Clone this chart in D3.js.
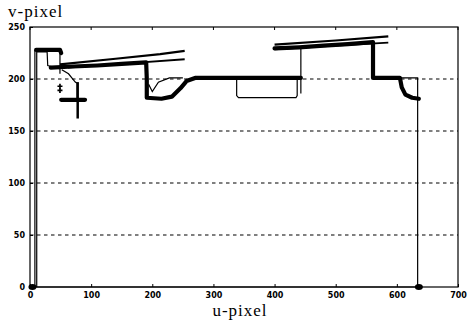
<!DOCTYPE html>
<html>
<head>
<meta charset="utf-8">
<script src="https://cdn.jsdelivr.net/npm/d3@7"></script>
<style>
  body { margin: 0; background: #fff; }
  svg { display: block; }
  .tick-label { font: bold 8px "DejaVu Sans", sans-serif; fill: #000; }
  .title { font: 17px "Liberation Serif", serif; letter-spacing: 1px; fill: #000; }
</style>
</head>
<body>
<svg id="chart" width="468" height="326"></svg>
<script>
// tick values
const xTicks = [0, 100, 200, 300, 400, 500, 600, 700];
const yTicks = [0, 50, 100, 150, 200, 250];
const gridValues = [50, 100, 150, 200];

// thick profile (dense markers) - null breaks the line
const profileThick = [
  [10, 228], [30, 228], [49, 228], [51, 225], null,
  [34, 211], [70, 212], [110, 213], [150, 214.5], [190, 216], [191, 200], [191, 182],
  [215, 181], [232, 183], [246, 191], [256, 198], [270, 201], [350, 201], [443, 201], null,
  [400, 229.5], [440, 230.5], [480, 232], [520, 233.5], [561, 235.5], [561, 215], [561, 201], [605, 201],
  [608, 192], [614, 185], [625, 182], [636, 181], null,
  [51, 180], [90, 180]
];

// thin trace under the profile
const profileThin = [
  [8, 0], [8, 228], null,
  [11, 0], [11, 226], [28, 226], [29, 213], [48, 210], null,
  [49, 228], [49, 205], null,
  [52, 209], [63, 205], [74, 197], [77, 196], [77, 178], null,
  [194, 195], [200, 188], [210, 197], [228, 201], [250, 201], null,
  [338, 201], [338, 184], [341, 182], [435, 182], [437, 184], [437, 201], null,
  [443, 186], [443, 230], null,
  [605, 201], [634, 201], [634, 0], null,
  [0, 0], [634, 0]
];

// vertical stroke under the first dip
const dipStroke = [[78, 197], [78, 162]];

// sloped reference lines above the profile
const slopeUpper = [[49, 214], [140, 219.5], [213, 224], [253, 227]];
const slopeLower = [[62, 211], [160, 215], [253, 219]];
const slopeUpper2 = [[400, 233], [500, 237], [586, 241]];
const slopeLower2 = [[400, 228.5], [500, 232], [586, 235]];

// blobs at the ends and the small star marker
const endPoints = [[4, 0], [636, 0]];
const starPoints = [[49, 193], [49, 189]];

const svg = d3.select('#chart');
const mLeft = 30, mRight = 458, mTop = 27, mBottom = 287;

const x = d3.scaleLinear().domain([0, 700]).range([mLeft, mRight]);
const y = d3.scaleLinear().domain([0, 250]).range([mBottom, mTop]);

// dashed grid
svg.append('g')
  .selectAll('line')
  .data(gridValues)
  .join('line')
  .attr('x1', mLeft)
  .attr('x2', mRight)
  .attr('y1', d => y(d))
  .attr('y2', d => y(d))
  .attr('stroke', '#000')
  .attr('stroke-width', 1.1)
  .attr('stroke-dasharray', '3.5,3.5');

// axes with inward ticks
const xAxis = d3.axisBottom(x).tickValues(xTicks).tickSize(-3).tickPadding(5).tickFormat(d3.format('d'));
const yAxis = d3.axisLeft(y).tickValues(yTicks).tickSize(-3).tickPadding(5).tickFormat(d3.format('d'));

svg.append('g')
  .attr('transform', `translate(0,${mBottom})`)
  .call(xAxis)
  .call(g => g.select('.domain').remove())
  .call(g => g.selectAll('text').attr('class', 'tick-label').attr('dy', '0.7em'));

svg.append('g')
  .attr('transform', `translate(${mLeft},0)`)
  .call(yAxis)
  .call(g => g.select('.domain').remove())
  .call(g => g.selectAll('text').attr('class', 'tick-label'));

// top ticks
svg.append('g')
  .selectAll('line')
  .data(xTicks)
  .join('line')
  .attr('x1', d => x(d))
  .attr('x2', d => x(d))
  .attr('y1', mTop)
  .attr('y2', mTop + 3)
  .attr('stroke', '#000');

// frame
svg.append('rect')
  .attr('x', mLeft)
  .attr('y', mTop)
  .attr('width', mRight - mLeft)
  .attr('height', mBottom - mTop)
  .attr('fill', 'none')
  .attr('stroke', '#000')
  .attr('stroke-width', 1.2);

const line = d3.line()
  .defined(d => d !== null)
  .x(d => x(d[0]))
  .y(d => y(d[1]));

const plot = svg.append('g');

plot.append('path')
  .attr('d', line(profileThin))
  .attr('fill', 'none')
  .attr('stroke', '#000')
  .attr('stroke-width', 1.2);

plot.append('path')
  .attr('d', line(dipStroke))
  .attr('fill', 'none')
  .attr('stroke', '#000')
  .attr('stroke-width', 2.5);

[slopeUpper, slopeLower, slopeUpper2, slopeLower2].forEach((s, i) => {
  plot.append('path')
    .attr('d', line(s))
    .attr('fill', 'none')
    .attr('stroke', '#000')
    .attr('stroke-width', i % 2 === 0 ? 2.2 : 1.8);
});

plot.append('path')
  .attr('d', line(profileThick))
  .attr('fill', 'none')
  .attr('stroke', '#000')
  .attr('stroke-width', 4.2)
  .attr('stroke-linejoin', 'round')
  .attr('stroke-linecap', 'round');

plot.selectAll('.blob')
  .data(endPoints)
  .join('ellipse')
  .attr('class', 'blob')
  .attr('cx', d => x(d[0]))
  .attr('cy', d => y(d[1]))
  .attr('rx', 4)
  .attr('ry', 3)
  .attr('fill', '#000');

plot.selectAll('.star')
  .data(starPoints)
  .join('path')
  .attr('class', 'star')
  .attr('transform', d => `translate(${x(d[0])},${y(d[1])})`)
  .attr('d', d3.symbol(d3.symbolCross, 14))
  .attr('fill', '#000');

// axis titles
svg.append('text')
  .attr('class', 'title')
  .attr('x', 8)
  .attr('y', 17)
  .text('v-pixel');

svg.append('text')
  .attr('class', 'title')
  .attr('x', 240)
  .attr('y', 316)
  .attr('text-anchor', 'middle')
  .text('u-pixel');
</script>
</body>
</html>
